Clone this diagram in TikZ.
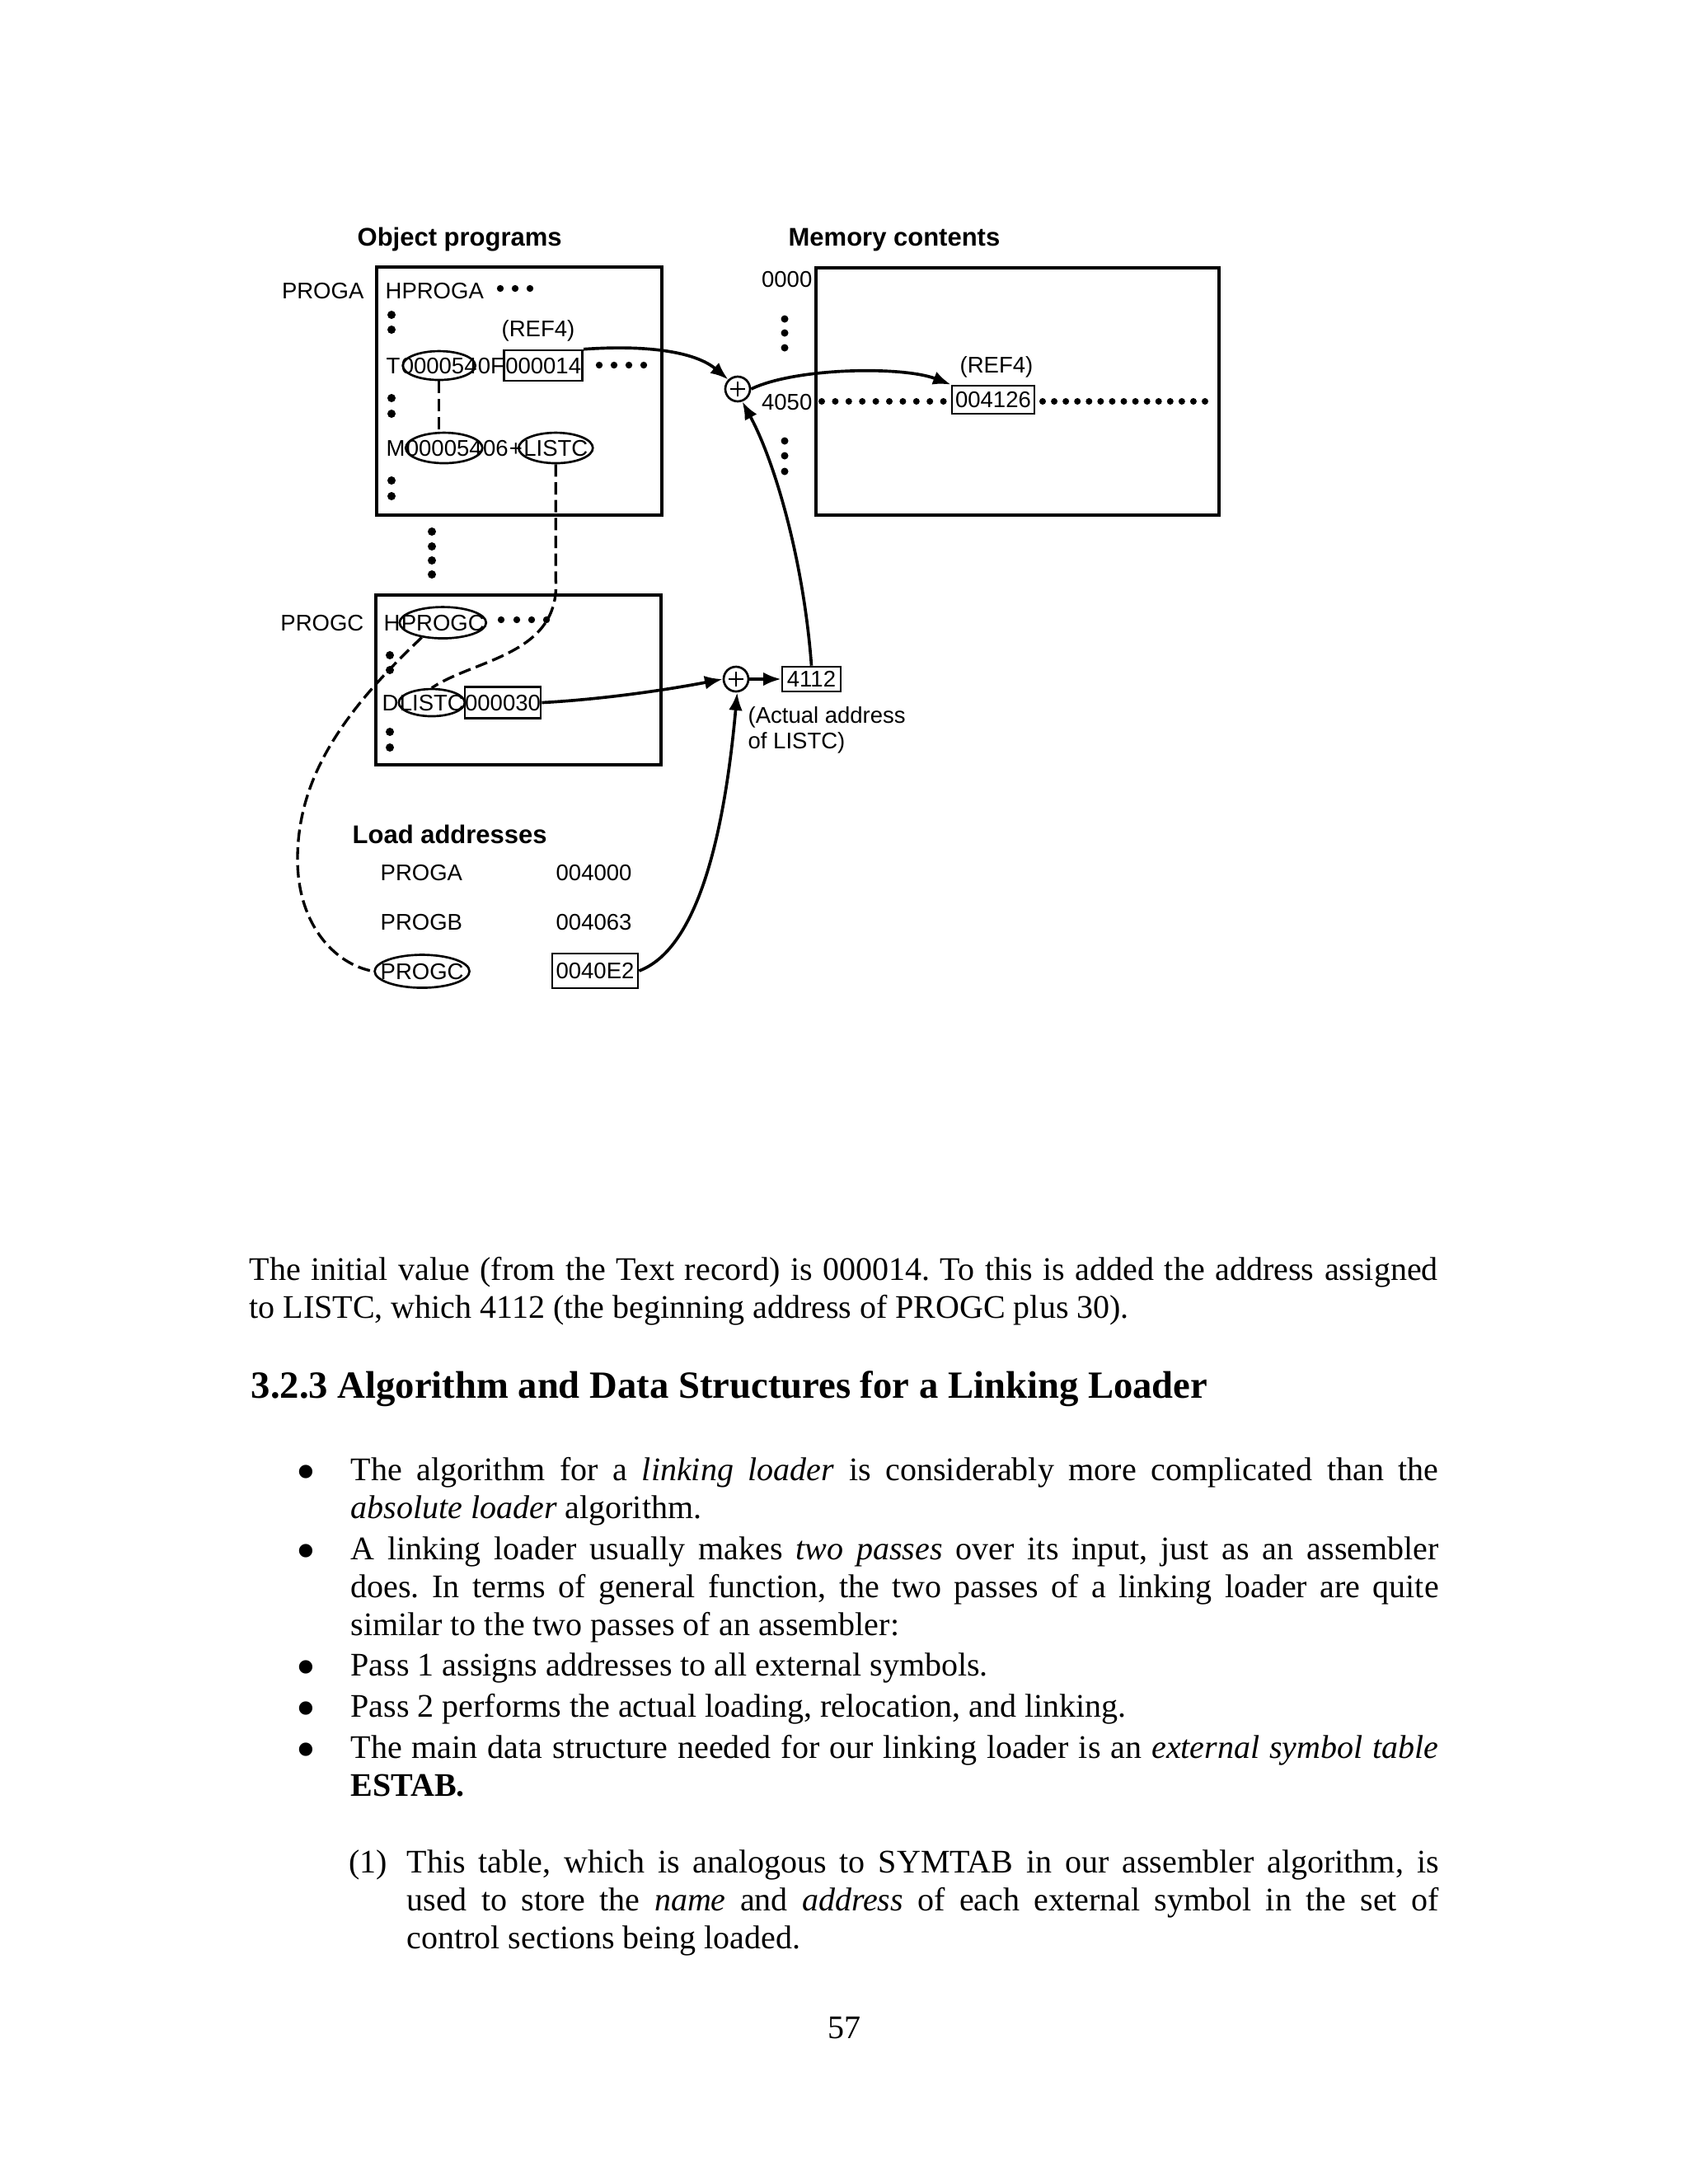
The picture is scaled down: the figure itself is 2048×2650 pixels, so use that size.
\documentclass[tikz,border=0pt]{standalone}
\usepackage{fontspec}
\usepackage{graphicx}
\setmainfont{Liberation Serif}
\newfontfamily\diagfont{Liberation Sans}
\usetikzlibrary{arrows.meta,shapes.geometric}
\hyphenpenalty=10000
\exhyphenpenalty=10000
\tolerance=9999
\frenchspacing
\newcommand\bulmark{\llap{\raisebox{-3.6pt}{\scalebox{1.7}{•}}\hspace{12.6pt}}}
\begin{document}
\begin{tikzpicture}[x=0.3pt,y=-0.3pt,
  dtext/.style={font=\diagfont\fontsize{8.25}{9.9}\selectfont, inner sep=0, anchor=base west},
  dtexte/.style={font=\diagfont\fontsize{8.25}{9.9}\selectfont, inner sep=0, anchor=base east},
  dhead/.style={font=\diagfont\bfseries\fontsize{9.3}{11}\selectfont, inner sep=0, anchor=base west},
  bigbox/.style={draw, line width=1.2pt, inner sep=0, anchor=north west},
  tbox/.style={draw, line width=0.8pt, inner sep=0, font=\diagfont\fontsize{8.25}{9.9}\selectfont},
  oval/.style={draw, ellipse, line width=0.8pt, inner sep=0},
  dconn/.style={line width=1pt, dash pattern=on 4.5pt off 2pt},
  arr/.style={line width=1.1pt, -{Latex[length=6.5pt,width=5pt]}},
  adder/.style={draw, circle, line width=0.8pt, minimum size=9pt, inner sep=0,
    path picture={\draw[line width=0.5pt]
      ([xshift=-2.6pt]path picture bounding box.center) -- ([xshift=2.6pt]path picture bounding box.center)
      ([yshift=-2.6pt]path picture bounding box.center) -- ([yshift=2.6pt]path picture bounding box.center);}},
  body/.style={font=\fontsize{12}{13.8}\selectfont, inner sep=0, anchor=base west, align=justify},
  pnum/.style={font=\fontsize{12}{13.8}\selectfont, inner sep=0, anchor=base}
  ]
\fill[white] (0,0) rectangle (2048,2650);
\useasboundingbox (0,0) rectangle (2048,2650);

% ---------- headings ----------
\node[dhead] (hobj) at (433,298) {Object programs};
\node[dhead] (hmem) at (956,298) {Memory contents};

% ---------- PROGA box ----------
\node[bigbox, minimum width={346*0.3pt}, minimum height={301*0.3pt}] (progA) at (455,322) {};
\node[dtexte] (lA) at (442,362) {PROGA};
\node[dtext] (hA) at (467,362) {HPROGA};
\foreach \x in {607,625,643} \fill (\x,350) circle (1.25pt);
\foreach \y in {382,400,483,502,583,602} \fill (475,\y) circle (1.5pt);
\node[dtext] (ref4a) at (608,408) {(REF4)};
% T record
\node[dtext] (tT) at (468,453) {T};
\node[dtext] (tAddr) at (tT.base east) {000054};
\node[dtext] (tLen) at (tAddr.base east) {0F};
\node[dtext] (tVal) at (tLen.base east) {000014};
\node[oval, minimum width={88*0.3pt}, minimum height={35*0.3pt}] (eT) at (tAddr.center) {};
\node[draw, line width=0.8pt, inner sep=0, minimum width={95*0.3pt}, minimum height={37*0.3pt}] (bT) at (tVal.center) {};
\foreach \x in {727,745,763,781} \fill (\x,443) circle (1.25pt);
% M record
\node[dtext] (mM) at (468,553) {M};
\node[dtext] (mAddr) at (mM.base east) {000054};
\node[dtext] (mLen) at (mAddr.base east) {06};
\node[dtext] (mPlus) at (mLen.base east) {+};
\node[dtext] (mSym) at (mPlus.base east) {LISTC};
\node[oval, minimum width={93*0.3pt}, minimum height={37*0.3pt}] (eM) at (mAddr.center) {};
\node[oval, minimum width={90*0.3pt}, minimum height={37*0.3pt}] (eL) at (mSym.center) {};

% dots between boxes
\foreach \y in {645,663,680,697} \fill (524,\y) circle (1.5pt);

% ---------- PROGC box ----------
\node[bigbox, minimum width={346*0.3pt}, minimum height={206*0.3pt}] (progC) at (454,720) {};
\node[dtexte] (lC) at (442,765) {PROGC};
\node[dtext] (hH) at (465,765) {H};
\node[dtext] (hName) at (hH.base east) {PROGC};
\node[oval, minimum width={105*0.3pt}, minimum height={38*0.3pt}] (eHC) at (hName.center) {};
\foreach \x in {608,627,645,663} \fill (\x,752) circle (1.25pt);
\foreach \y in {795,813,888,907} \fill (473,\y) circle (1.5pt);
\node[dtext] (dD) at (463,862) {D};
\node[dtext] (dSym) at (dD.base east) {LISTC};
\node[dtext] (dVal) at (dSym.base east) {000030};
\node[oval, minimum width={80*0.3pt}, minimum height={33*0.3pt}] (eDL) at (dSym.center) {};
\node[draw, line width=0.8pt, inner sep=0, minimum width={92*0.3pt}, minimum height={38*0.3pt}] (bD) at (dVal.center) {};

% ---------- Memory ----------
\node[bigbox, minimum width={489*0.3pt}, minimum height={300*0.3pt}] (mem) at (988,323) {};
\node[dtexte] (m0) at (986,348) {0000};
\node[dtexte] (m4050) at (986,497) {4050};
\foreach \y in {387,404,422,535,553,572} \fill (952,\y) circle (1.35pt);
\node[dtext] (ref4m) at (1164,452) {(REF4)};
\node[tbox, minimum width={100*0.3pt}, minimum height={34*0.3pt}] (mval) at (1205,485) {004126};
\foreach \i in {0,...,9} \fill ({997+\i*16.4},487) circle (1.2pt);
\foreach \i in {0,...,14} \fill ({1265+\i*14.07},487) circle (1.2pt);

% ---------- adders ----------
\node[adder] (add1) at (895,472) {};
\node[adder] (add2) at (893,824) {};
\node[tbox, minimum width={71*0.3pt}, minimum height={30*0.3pt}] (b4112) at (984.5,824) {4112};
\node[dtext] (act1) at (907,877) {(Actual address};
\node[dtext] (act2) at (907,908) {of LISTC)};

% ---------- Load addresses ----------
\node[dhead] (hload) at (427,1023) {Load addresses};
\node[dtext] (la1) at (461,1068) {PROGA};
\node[dtext] (lv1) at (674,1068) {004000};
\node[dtext] (la2) at (461,1128) {PROGB};
\node[dtext] (lv2) at (674,1128) {004063};
\node[dtext] (la3) at (461,1188) {PROGC};
\node[oval, minimum width={115*0.3pt}, minimum height={40*0.3pt}] (eLC) at (la3.center) {};
\node[tbox, minimum width={104*0.3pt}, minimum height={42*0.3pt}] (bLC) at (722,1178) {0040E2};

% ---------- connectors ----------
\draw[dconn] (eT.south) -- (eT.south |- eM.north);
\draw[dconn] (eL.south) -- ++(0,140) .. controls (680,795) and (575,800) .. (eDL.north);
\draw[dconn] (eHC.215) .. controls (420,860) and (362,940) .. (361,1040)
   .. controls (360,1120) and (405,1170) .. (eLC.west);
\draw[arr] (bT.north east) .. controls (790,418) and (845,428) .. (add1.north west);
\draw[arr] (add1.east) .. controls (965,446) and (1095,444) .. (mval.north west);
\draw[arr] (b4112.north) .. controls (975,680) and (940,560) .. (add1.-70);
\draw[arr] (bD.east) .. controls (740,848) and (820,835) .. (add2.west);
\draw[arr] (add2.east) -- (b4112.west);
\draw[arr] (bLC.east) .. controls (850,1150) and (880,1000) .. (add2.-85);

% ---------- page text ----------
\node[body, text width=432.6pt] (para) at (302,1553) {\noindent The initial value (from the Text record) is 000014. To this is added the address assigned\linebreak to LISTC, which 4112 (the beginning address of PROGC plus 30).};
\node[font=\bfseries\fontsize{14}{16}\selectfont, inner sep=0, anchor=base west] (head) at (304,1696) {3.2.3 Algorithm and Data Structures for a Linking Loader};

\node[body, text width=396pt] (i1) at (425,1796) {\noindent\bulmark The algorithm for a \emph{linking loader} is considerably more complicated than the\linebreak \emph{absolute loader} algorithm.};
\node[body, text width=396pt] (i2) at (425,1892) {\noindent\bulmark A linking loader usually makes \emph{two passes} over its input, just as an assembler\linebreak does. In terms of general function, the two passes of a linking loader are quite\linebreak similar to the two passes of an assembler:};
\node[body, text width=396pt] (i3) at (425,2033) {\noindent\bulmark Pass 1 assigns addresses to all external symbols.};
\node[body, text width=396pt] (i4) at (425,2083) {\noindent\bulmark Pass 2 performs the actual loading, relocation, and linking.};
\node[body, text width=396pt] (i5) at (425,2133) {\noindent\bulmark The main data structure needed for our linking loader is an \emph{external symbol table}\linebreak \textbf{ESTAB.}};

\node[body] (n1) at (423,2272) {(1)};
\node[body, text width=375.6pt] (t1) at (493,2272) {\noindent This table, which is analogous to SYMTAB in our assembler algorithm, is\linebreak used to store the \emph{name} and \emph{address} of each external symbol in the set of\linebreak control sections being loaded.};

\node[pnum] (pg) at (1024,2473) {57};
\end{tikzpicture}
\end{document}
